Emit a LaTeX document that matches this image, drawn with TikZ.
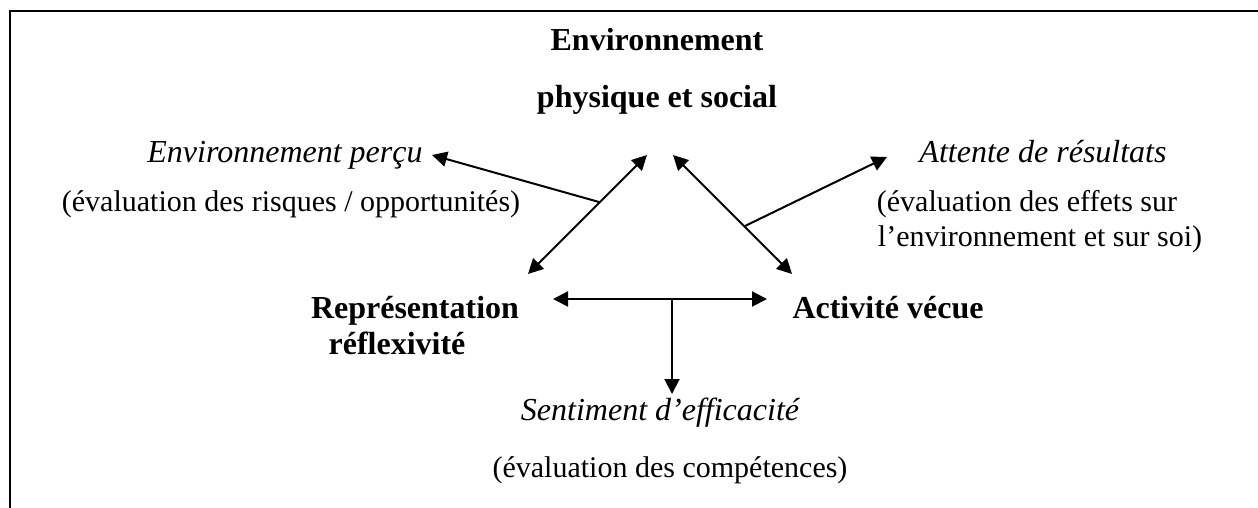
\documentclass[tikz,border=0pt]{standalone}
\usepackage{fontspec}
\setmainfont{Liberation Serif}
\usetikzlibrary{arrows.meta}
\tikzset{
  lbl/.style={inner sep=0pt, anchor=base},
  bigb/.style={lbl, font=\fontsize{32}{38}\selectfont\bfseries},
  ital/.style={lbl, font=\fontsize{32}{38}\selectfont\itshape},
  norm/.style={lbl, font=\fontsize{30}{36}\selectfont},
  tip/.style={Triangle[length=15pt,width=15pt]},
  conn/.style={line width=2pt, -{Triangle[length=15pt,width=15pt]}},
  dconn/.style={line width=2pt, {Triangle[length=15pt,width=15pt]}-{Triangle[length=15pt,width=15pt]}},
  frame/.style={line width=2.2pt}
}
\begin{document}
\begin{tikzpicture}[x=1pt,y=-1pt]
\useasboundingbox (0,0) rectangle (1258,508);
\draw[frame] (10,508) -- (10,11) -- (1258,11);
% texts
\node[bigb] (env1) at (657,51) {Environnement};
\node[bigb] (env2) at (657,108) {physique et social};
\node[ital] (perc) at (285,162) {Environnement perçu};
\node[norm] (risq) at (291,211) {(évaluation des risques / opportunités)};
\node[ital] (att) at (1043,162) {Attente de résultats};
\node[norm] (eff1) at (1027,211) {(évaluation des effets sur};
\node[norm] (eff2) at (1040,246) {l’environnement et sur soi)};
\node[bigb] (rep1) at (415,318) {Représentation};
\node[bigb] (rep2) at (397,354) {réflexivité};
\node[bigb] (act) at (888,318) {Activité vécue};
\node[ital] (sent) at (660,420) {Sentiment d’efficacité};
\node[norm] (comp) at (670,477) {(évaluation des compétences)};
% connector ends
\coordinate (lt) at (647,155);
\coordinate (lb) at (528,274);
\coordinate (rt) at (673,155);
\coordinate (rb) at (792,274);
\coordinate (hl) at (553,299);
\coordinate (hr) at (767,299);
\coordinate (hm) at (672,299);
\coordinate (vb) at (672,394);
\coordinate (lbr) at (599,202);
\coordinate (ptip) at (432,155);
\coordinate (rbr) at (745,226);
\coordinate (atip) at (887,157);
% connectors
\draw[dconn] (lb) -- (lt);
\draw[dconn] (rb) -- (rt);
\draw[dconn] (hl) -- (hr);
\draw[conn] (hm) -- (vb);
\draw[conn] (lbr) -- (ptip);
\draw[conn] (rbr) -- (atip);
\end{tikzpicture}
\end{document}
